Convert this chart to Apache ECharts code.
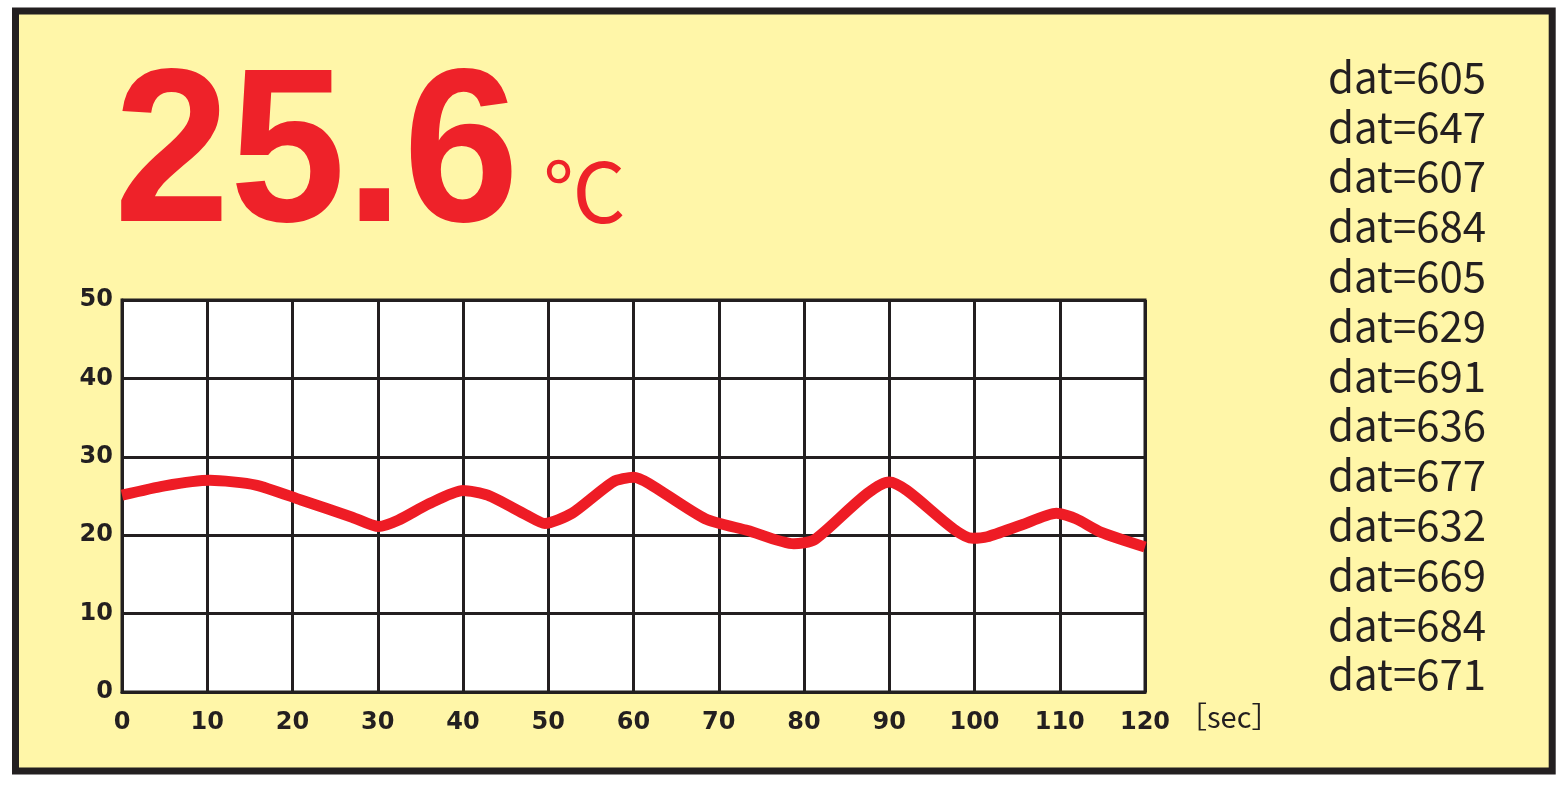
<!DOCTYPE html>
<html><head><meta charset="utf-8">
<script src="https://cdn.jsdelivr.net/npm/echarts@6/dist/echarts.min.js"></script>
<style>html,body{margin:0;padding:0;background:#fff}#c{width:1559px;height:787px}</style>
</head><body><div id="c"></div>
<script>
// ---- data ----
const timeSec = [0,5,10.3,15.7,21,27,30.1,32.4,36,40,42.9,47.4,49.6,52.8,57.6,60,61.8,68.4,73.4,78.8,81.2,90,99.8,101.5,105.5,109.6,111.9,114.8,120];
const tempC   = [25.1,26.3,27.0,26.4,24.5,22.3,21.1,21.9,24.0,25.7,25.1,22.6,21.5,22.8,26.8,27.4,26.6,22.1,20.6,18.9,19.4,26.8,19.6,19.8,21.3,22.8,22.1,20.4,18.5];
const currentTemp = '25.6';
const tempUnit = '℃';
const datValues = [605,647,607,684,605,629,691,636,677,632,669,684,671];
const xTickMin = 0, xTickMax = 120, xTickStep = 10;
const yTickMin = 0, yTickMax = 50, yTickStep = 10;
const xUnit = '［sec］';

const chart = echarts.init(document.getElementById('c'));
const ink = '#231F20';
const labelFont = {color: ink, fontSize: 24, fontWeight: 'bold', fontFamily: 'DejaVu Sans'};
chart.setOption({
  backgroundColor: 'transparent',
  animation: false,
  grid: {left: 122, right: 414, top: 300, bottom: 95, show: true, backgroundColor: '#fff', borderColor: ink, borderWidth: 3},
  xAxis: {
    type: 'value', min: xTickMin, max: xTickMax, interval: xTickStep,
    axisLine: {show: true, lineStyle: {color: ink, width: 3}},
    axisTick: {show: false},
    splitLine: {show: true, lineStyle: {color: ink, width: 3}},
    axisLabel: Object.assign({margin: 19}, labelFont)
  },
  yAxis: {
    type: 'value', min: yTickMin, max: yTickMax, interval: yTickStep,
    axisLine: {show: true, lineStyle: {color: ink, width: 3}},
    axisTick: {show: false},
    splitLine: {show: true, lineStyle: {color: ink, width: 3}},
    axisLabel: Object.assign({margin: 9}, labelFont)
  },
  series: [{
    type: 'line', smooth: 0.22, showSymbol: false, symbol: 'none',
    data: timeSec.map((t, i) => [t, tempC[i]]),
    lineStyle: {color: '#EE1C25', width: 11, cap: 'butt', join: 'round'},
    z: 5
  }],
  graphic: [
    {type: 'rect', z: -100, silent: true, shape: {x: 15.5, y: 11, width: 1536.7, height: 760},
     style: {fill: '#FFF6A8', stroke: ink, lineWidth: 7}},
    {type: 'text', left: 114, top: 51, z: 10, scaleX: 0.95,
     style: {text: currentTemp, fill: '#EE2229', font: 'bold 219px "Liberation Sans", Arial, sans-serif'}},
    {type: 'text', left: 543, top: 150, z: 10,
     style: {text: tempUnit, fill: '#EE2229', font: '83px "Noto Sans CJK JP", sans-serif'}},
    {type: 'text', left: 1328, top: 52, z: 10,
     style: {text: datValues.map(v => 'dat=' + v).join('\n'), fill: ink, lineHeight: 49.8, font: '42px "Noto Sans CJK JP", sans-serif'}},
    {type: 'text', left: 1178, top: 702, z: 10,
     style: {text: xUnit, fill: ink, font: '29px "Noto Sans CJK JP", sans-serif'}}
  ]
});
</script></body></html>
